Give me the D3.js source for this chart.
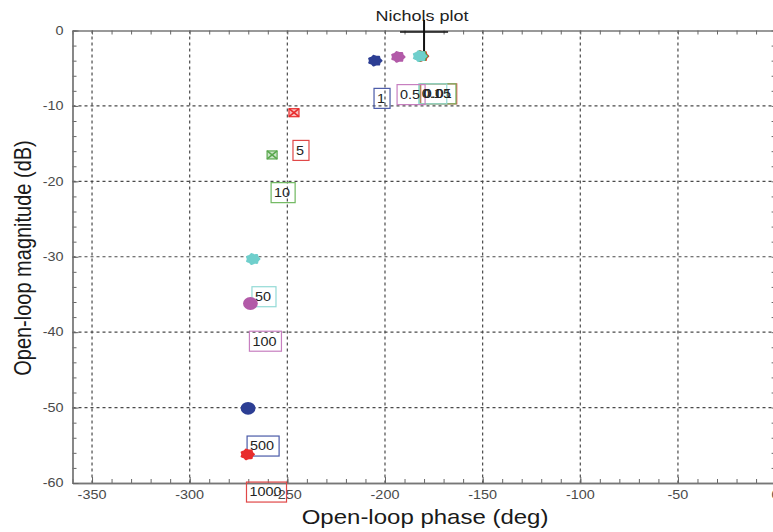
<!DOCTYPE html>
<html>
<head>
<meta charset="utf-8">
<script src="https://cdn.jsdelivr.net/npm/d3@7"></script>
<style>
  body { margin: 0; background: #fff; }
  svg { display: block; font-family: "Liberation Sans", Arial, Helvetica, sans-serif; }
</style>
</head>
<body>
<svg id="chart" width="773" height="532"></svg>
<script>
// Nichols plot: open-loop phase vs magnitude, one marker per frequency
const freqLabels = ["0.01", "0.05", "0.1", "0.5", "1", "5", "10", "50", "100", "500", "1000"];
const phaseDeg   = [-181.2, -181.6, -182.2, -193.3, -205.1, -246.6, -257.8, -267.6, -268.9, -270.1, -270.4];
const magDb      = [-3.4, -3.4, -3.4, -3.5, -4.0, -10.9, -16.5, -30.3, -36.2, -50.1, -56.2];
const pointColors = ["#e82c2c", "#5aa84e", "#6fcfcc", "#b25aa8", "#2c3e94", "#e82c2c", "#5aa84e", "#6fcfcc", "#b25aa8", "#2c3e94", "#e82c2c"];
const boxColors   = ["#e04848", "#70b860", "#93dad6", "#c77fc0", "#4a5aa8", "#e04848", "#70b860", "#93dad6", "#c77fc0", "#4a5aa8", "#e04848"];
const markerKinds = ["blob", "blob", "blob", "blob", "blob", "hatch", "hatch", "blob", "disc", "disc", "blob"];

const xTicks = [-350, -300, -250, -200, -150, -100, -50, 0];
const yTicks = [0, -10, -20, -30, -40, -50, -60];
const xDomain = [-360, 0];
const yDomain = [-60, 0];

// critical point (-180 deg, 0 dB) cross
const crossPhase = [-192.3, -167.7];
const crossDb = [1.4, -3.0];
const crossCenter = { phase: -180, db: -0.2 };

const title = "Nichols plot";
const xTitle = "Open-loop phase (deg)";
const yTitle = "Open-loop magnitude (dB)";

const svg = d3.select("#chart");
const plotL = 72.5, plotR = 775.6, plotT = 30.5, plotB = 483;
const SX = 1.2; // horizontal glyph stretch

const x = d3.scaleLinear().domain(xDomain).range([plotL, plotR]);
const y = d3.scaleLinear().domain(yDomain).range([plotB, plotT]);

svg.append("rect").attr("width", 773).attr("height", 532).attr("fill", "#fff");

function label(g, px, py, str, opts = {}) {
  return g.append("text")
    .attr("transform", `translate(${px},${py}) scale(${SX},1)${opts.rotate ? " rotate(-90)" : ""}`)
    .attr("text-anchor", opts.anchor || "start")
    .attr("font-size", opts.size || 12)
    .attr("fill", opts.fill || "#333")
    .text(str);
}

// grid
const grid = svg.append("g").attr("stroke", "#4a4a4a").attr("stroke-width", 1.2).attr("stroke-dasharray", "3,3");
grid.selectAll("line.v").data(xTicks.filter(d => d > xDomain[0] && d < xDomain[1])).join("line")
  .attr("class", "v")
  .attr("x1", d => x(d)).attr("x2", d => x(d)).attr("y1", plotT).attr("y2", plotB);
grid.selectAll("line.h").data(yTicks.filter(d => d > yDomain[0] && d < yDomain[1])).join("line")
  .attr("class", "h")
  .attr("x1", plotL).attr("x2", plotR).attr("y1", d => y(d)).attr("y2", d => y(d));

// axes: ticks pointing inward on all four sides
function styleAxis(g) {
  g.select(".domain").attr("stroke", "#777").attr("stroke-width", 1.3);
  g.selectAll(".tick line").attr("stroke", "#666");
  g.selectAll(".tick text").remove();
}
const minorX = x.ticks(36), minorY = y.ticks(30);
const axes = svg.append("g");
axes.append("g").attr("transform", `translate(0,${plotB})`)
  .call(d3.axisBottom(x).tickValues(minorX).tickSize(-4).tickSizeOuter(0)).call(styleAxis);
axes.append("g").attr("transform", `translate(0,${plotT})`)
  .call(d3.axisTop(x).tickValues(minorX).tickSize(-4).tickSizeOuter(0)).call(styleAxis);
axes.append("g").attr("transform", `translate(${plotL},0)`)
  .call(d3.axisLeft(y).tickValues(minorY).tickSize(-4).tickSizeOuter(0)).call(styleAxis);
axes.append("g").attr("transform", `translate(${plotR},0)`)
  .call(d3.axisRight(y).tickValues(minorY).tickSize(-4).tickSizeOuter(0)).call(styleAxis);
axes.append("g").attr("transform", `translate(0,${plotB})`)
  .call(d3.axisBottom(x).tickValues(xTicks).tickSize(-6).tickSizeOuter(0)).call(styleAxis);
axes.append("g").attr("transform", `translate(${plotL},0)`)
  .call(d3.axisLeft(y).tickValues(yTicks).tickSize(-6).tickSizeOuter(0)).call(styleAxis);

// tick labels
const tl = svg.append("g");
xTicks.forEach(d => label(tl, x(d), plotB + 16, String(d), { anchor: "middle", fill: "#4a4a4a" }));
yTicks.forEach(d => label(tl, plotL - 9, y(d) + 4.3, String(d), { anchor: "end", fill: "#4a4a4a" }));

// axis titles and plot title
label(svg, (plotL + plotR) / 2 + 1, 524, xTitle, { anchor: "middle", size: 20, fill: "#1a1a1a" });
label(svg, 31, 258, yTitle, { anchor: "middle", size: 20, fill: "#1a1a1a", rotate: true });
label(svg, 422, 21, title, { anchor: "middle", size: 15, fill: "#222" });

// critical point cross
const cross = svg.append("g").attr("stroke", "#111");
cross.append("line").attr("x1", x(crossPhase[0])).attr("x2", x(crossPhase[1]))
  .attr("y1", y(crossCenter.db)).attr("y2", y(crossCenter.db)).attr("stroke-width", 1.6);
cross.append("line").attr("x1", x(crossCenter.phase)).attr("x2", x(crossCenter.phase))
  .attr("y1", y(crossDb[0])).attr("y2", y(crossDb[1])).attr("stroke-width", 2);

// frequency labels in boxes, placed 5 dB below each point
const pts = freqLabels.map((f, i) => ({ f, p: phaseDeg[i], m: magDb[i], c: pointColors[i], bc: boxColors[i], k: markerKinds[i] }));
const lab = svg.append("g");
pts.forEach(d => {
  const bx = x(d.p) - 1, cy = y(d.m - 5);
  const t = label(lab, bx + 3, cy + 4.3, d.f, { fill: "#222" });
  const w = t.node().getComputedTextLength() * SX + 8;
  lab.insert("rect", "text").attr("x", bx).attr("y", cy - 10).attr("width", w).attr("height", 20)
    .attr("fill", "none").attr("stroke", d.bc).attr("stroke-width", 1.2);
});

// markers
const blobPath = (rx, ry) => {
  const n = 14;
  const ring = d3.range(n).map(i => {
    const a = (i / n) * 2 * Math.PI, r = i % 2 ? 0.82 : 1;
    return [Math.cos(a) * rx * r, Math.sin(a) * ry * r];
  });
  return d3.line().curve(d3.curveCardinalClosed.tension(0.2))(ring);
};
const mk = svg.append("g");
pts.forEach(d => {
  const cx = x(d.p), cy = y(d.m);
  const g = mk.append("g").attr("transform", `translate(${cx},${cy})`);
  if (d.k === "blob") {
    g.append("path").attr("d", blobPath(7.6, 6.1)).attr("fill", d.c);
  } else if (d.k === "disc") {
    g.append("ellipse").attr("rx", 7.4).attr("ry", 6.4).attr("fill", d.c);
  } else {
    g.append("rect").attr("x", -5).attr("y", -4).attr("width", 10).attr("height", 8)
      .attr("fill", d.c).attr("fill-opacity", 0.3).attr("stroke", d.c).attr("stroke-width", 1.2);
    g.append("path").attr("d", "M-5,-4L5,4M5,-4L-5,4").attr("stroke", d.c).attr("stroke-width", 1.6);
  }
});
</script>
</body>
</html>
